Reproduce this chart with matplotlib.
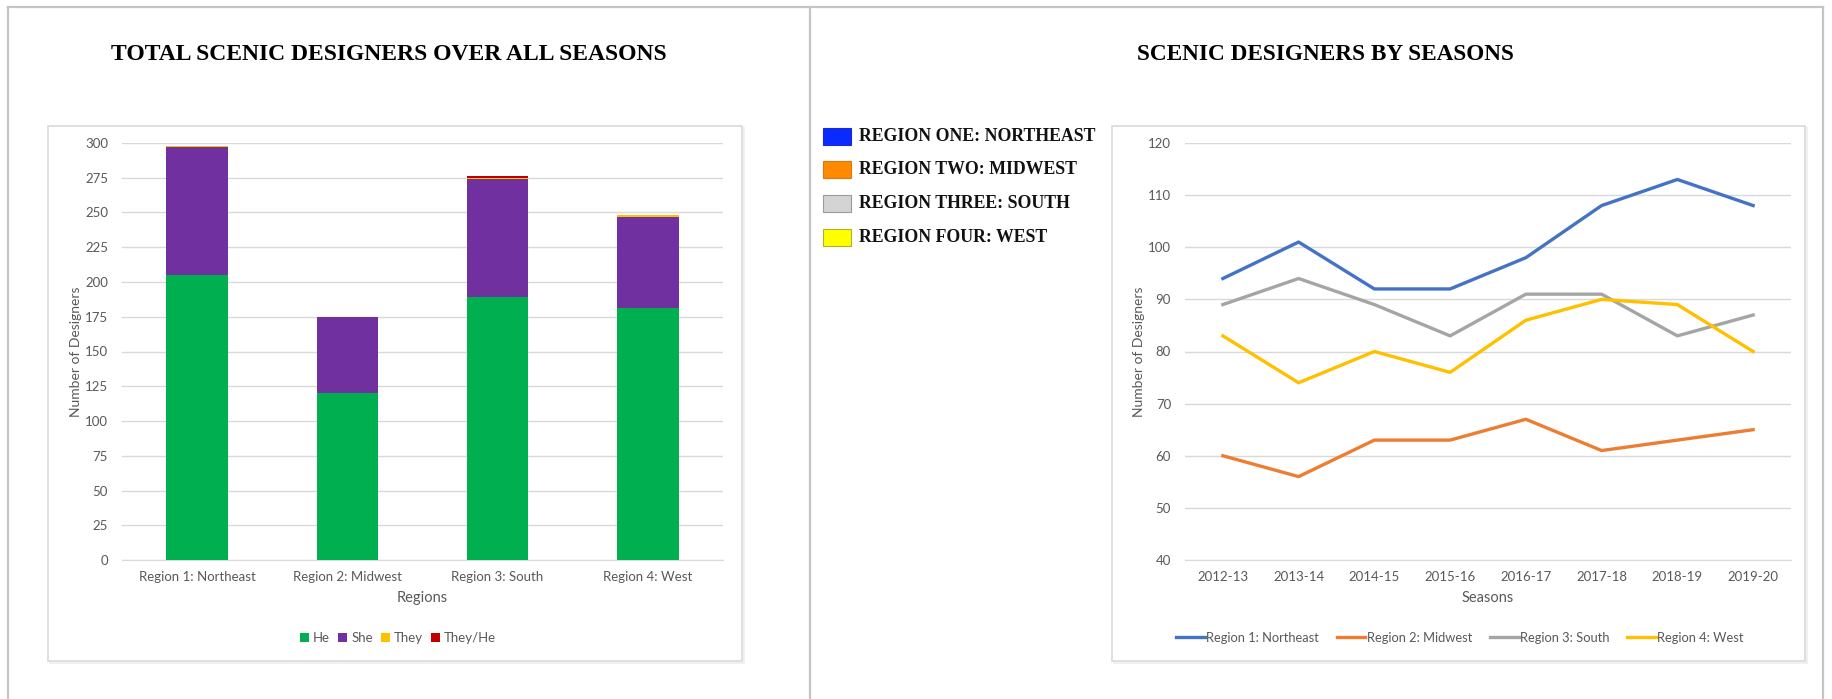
import matplotlib
matplotlib.use("Agg")
import matplotlib.pyplot as plt
from matplotlib.patches import Rectangle
from matplotlib.lines import Line2D
import numpy as np

# ---------------- data ----------------
regions = ["Region 1: Northeast", "Region 2: Midwest", "Region 3: South", "Region 4: West"]
he = [205, 120, 189, 181]
she = [92, 55, 85, 66]
they = [1, 0, 1, 1]
they_he = [0, 0, 1, 0]

seasons = ["2012-13", "2013-14", "2014-15", "2015-16", "2016-17", "2017-18", "2018-19", "2019-20"]
northeast = [94, 101, 92, 92, 98, 108, 113, 108]
midwest = [60, 56, 63, 63, 67, 61, 63, 65]
south = [89, 94, 89, 83, 91, 91, 83, 87]
west = [83, 74, 80, 76, 86, 90, 89, 80]

legend_labels = ["REGION ONE: NORTHEAST", "REGION TWO: MIDWEST", "REGION THREE: SOUTH", "REGION FOUR: WEST"]
legend_colors = ["#0a2bff", "#ff8a00", "#d4d4d4", "#ffff00"]
legend_edges = ["#1a2bd0", "#d87a10", "#9a9a9a", "#b0b030"]

W, H = 1833, 699
DPI = 100
fig = plt.figure(figsize=(W / DPI, H / DPI), dpi=DPI)
fig.patch.set_facecolor("white")

EXCEL_FONT = "Lato"
TICK_C = "#595959"
GRID_C = "#d9d9d9"

def fx(px):
    return px / W

def fy(py):
    return (H - py) / H

# ---------------- frames ----------------
frame_c = "#c4c4c4"
for (x0, y0, x1, y1) in [(8, 7, 1823, 7), (8, 7, 8, 699), (810, 7, 810, 699), (1823, 7, 1823, 699)]:
    fig.add_artist(Line2D([fx(x0), fx(x1)], [fy(y0), fy(y1)], color=frame_c, lw=1.6,
                          transform=fig.transFigure, zorder=-2))

for (x0, y0, x1, y1) in [(48, 126, 742, 661), (1112, 126, 1805, 661)]:
    fig.add_artist(Rectangle((fx(x0) + 0.0012, fy(y1) - 0.003), fx(x1 - x0), fy(y0) - fy(y1),
                             transform=fig.transFigure, facecolor="none",
                             edgecolor="#f0f0f0", lw=1.5, zorder=-3))
    fig.add_artist(Rectangle((fx(x0), fy(y1)), fx(x1 - x0), fy(y0) - fy(y1),
                             transform=fig.transFigure, facecolor="white",
                             edgecolor="#d9d9d9", lw=1.2, zorder=-2))

# ---------------- titles ----------------
renderer = fig.canvas.get_renderer()

def fit_text(x, y, s, target_w, fs0=16, **kw):
    t = fig.text(x, y, s, fontsize=fs0, **kw)
    w = t.get_window_extent(renderer=renderer).width
    t.set_fontsize(fs0 * target_w / w)
    return t

title_kw = dict(family="Liberation Serif", fontweight="bold", color="black", ha="center", va="center")
fit_text(fx(389), fy(55), "TOTAL SCENIC DESIGNERS OVER ALL SEASONS", 558, **title_kw)
fit_text(fx(1325), fy(55), "SCENIC DESIGNERS BY SEASONS", 378, **title_kw)

# ---------------- styling helper ----------------
def style_axes(ax):
    ax.grid(axis="y", color=GRID_C, lw=1.0, zorder=0)
    ax.set_axisbelow(True)
    for sp in ax.spines.values():
        sp.set_visible(False)
    ax.spines["bottom"].set_visible(True)
    ax.spines["bottom"].set_color(GRID_C)
    ax.tick_params(axis="both", length=0, labelsize=9.5, labelcolor=TICK_C)
    ax.tick_params(axis="y", pad=10)
    ax.tick_params(axis="x", pad=8)
    for lab in ax.get_xticklabels() + ax.get_yticklabels():
        lab.set_family(EXCEL_FONT)
    ax.set_facecolor("none")

# ---------------- left: stacked bars ----------------
ax1 = fig.add_axes([fx(122), fy(560), fx(723 - 122), fy(143) - fy(560)])
x = np.arange(len(regions))
bw = 0.41
bottom = np.zeros(len(regions))
series = [("He", he, "#00b050"), ("She", she, "#7030a0"),
          ("They", they, "#ffc000"), ("They/He", they_he, "#c00000")]
for name, vals, col in series:
    ax1.bar(x, vals, bw, bottom=bottom, color=col, label=name, zorder=3)
    bottom += np.array(vals)

ax1.set_xlim(-0.5, 3.5)
ax1.set_ylim(0, 300)
ax1.set_yticks(np.arange(0, 301, 25))
ax1.set_xticks(x)
ax1.set_xticklabels(regions)
ax1.set_ylabel("Number of Designers", fontsize=10, color=TICK_C, family=EXCEL_FONT, labelpad=2)
ax1.set_xlabel("Regions", fontsize=10.5, color=TICK_C, family=EXCEL_FONT, labelpad=6)
style_axes(ax1)

leg1 = ax1.legend(loc="center", bbox_to_anchor=(fx(398), fy(638)), bbox_transform=fig.transFigure,
                  ncol=4, frameon=False, handlelength=0.7, handleheight=0.7, handletextpad=0.3,
                  columnspacing=0.6, prop={"family": EXCEL_FONT, "size": 9.5})
for t in leg1.get_texts():
    t.set_color(TICK_C)

# ---------------- right: line chart ----------------
ax2 = fig.add_axes([fx(1185), fy(560), fx(1791 - 1185), fy(143) - fy(560)])
xs = np.arange(len(seasons))
line_series = [("Region 1: Northeast", northeast, "#4472c4"),
               ("Region 2: Midwest", midwest, "#ed7d31"),
               ("Region 3: South", south, "#a5a5a5"),
               ("Region 4: West", west, "#ffc000")]
for name, vals, col in line_series:
    ax2.plot(xs, vals, color=col, lw=2.4, label=name, zorder=3)
ax2.set_xlim(-0.5, len(seasons) - 0.5)
ax2.set_ylim(40, 120)
ax2.set_yticks(np.arange(40, 121, 10))
ax2.set_xticks(xs)
ax2.set_xticklabels(seasons)
ax2.set_ylabel("Number of Designers", fontsize=10, color=TICK_C, family=EXCEL_FONT, labelpad=2)
ax2.set_xlabel("Seasons", fontsize=10.5, color=TICK_C, family=EXCEL_FONT, labelpad=6)
style_axes(ax2)

leg2 = ax2.legend(loc="center", bbox_to_anchor=(fx(1460), fy(638)), bbox_transform=fig.transFigure,
                  ncol=4, frameon=False, handlelength=2.2, handletextpad=0.1,
                  columnspacing=1.4, prop={"family": EXCEL_FONT, "size": 9.3})
for t in leg2.get_texts():
    t.set_color(TICK_C)

# ---------------- left-side region key ----------------
key_y = [136.8, 169.5, 203.4, 237.3]
for lab, col, ec, yy in zip(legend_labels, legend_colors, legend_edges, key_y):
    fig.add_artist(Rectangle((fx(823), fy(yy + 8.5)), fx(28), fy(yy - 8.5) - fy(yy + 8.5),
                             transform=fig.transFigure, facecolor=col, edgecolor=ec, lw=0.8))
    fig.text(fx(859), fy(yy), lab, family="Liberation Serif", fontweight="bold",
             fontsize=12.8, ha="left", va="center", color="#111111")

fig.savefig("out.png", dpi=DPI, facecolor="white")
